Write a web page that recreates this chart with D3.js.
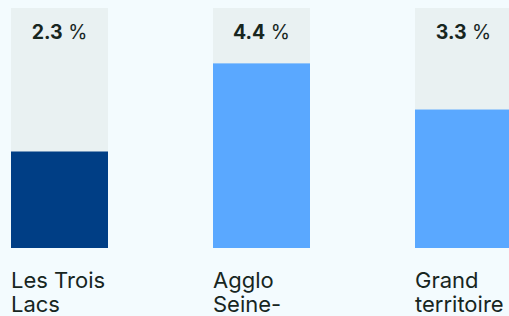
<!DOCTYPE html>
<html>
<head>
<meta charset="utf-8">
<script src="https://cdn.jsdelivr.net/npm/d3@7"></script>
<style>
  html, body { margin: 0; padding: 0; background: #f3fbfe; overflow: hidden; }
  svg { display: block; font-family: Inter, "Liberation Sans", sans-serif; }
</style>
</head>
<body>
<div id="chart"></div>
<script>
// Data
const categories = ["Les Trois Lacs", "Agglo Seine-Eure", "Grand territoire"];
const values = [2.3, 4.4, 3.3];
const colors = ["#003e85", "#5aa8ff", "#5aa8ff"];

const width = 509, height = 316;
const trackTop = 8, trackBottom = 248;

const svg = d3.select("#chart").append("svg")
    .attr("width", width)
    .attr("height", height);

// Scales
const x = d3.scaleBand()
    .domain(categories)
    .range([11, 512])
    .paddingInner(105 / 202)
    .paddingOuter(0);

const y = d3.scaleLinear()
    .domain([0, d3.max(values) * 1.3])
    .range([trackBottom, trackTop]);

const data = categories.map((c, i) => ({ cat: c, value: values[i], color: colors[i] }));

// Background tracks
svg.selectAll("rect.track")
    .data(data)
    .enter().append("rect")
    .attr("class", "track")
    .attr("x", d => x(d.cat))
    .attr("y", y.range()[1])
    .attr("width", x.bandwidth())
    .attr("height", trackBottom - trackTop)
    .attr("fill", "#e9f1f2");

// Bars
svg.selectAll("rect.bar")
    .data(data)
    .enter().append("rect")
    .attr("class", "bar")
    .attr("x", d => x(d.cat))
    .attr("y", d => y(d.value))
    .attr("width", x.bandwidth())
    .attr("height", d => trackBottom - y(d.value))
    .attr("fill", d => d.color);

// Value labels
const vl = svg.selectAll("text.value")
    .data(data)
    .enter().append("text")
    .attr("class", "value")
    .attr("x", d => x(d.cat) + x.bandwidth() / 2)
    .attr("y", 39)
    .attr("text-anchor", "middle")
    .attr("fill", "#17261f")
    .style("font-size", "19.5px");
vl.append("tspan").attr("font-weight", "bold").text(d => d3.format(".1f")(d.value));
vl.append("tspan").attr("font-weight", "normal").text(" %");

// Category labels, wrapped to bar width
svg.selectAll("text.cat")
    .data(data)
    .enter().append("text")
    .attr("class", "cat")
    .attr("x", d => x(d.cat))
    .attr("y", 288)
    .attr("fill", "#17261f")
    .style("font-size", "22px")
    .each(function(d) {
        const text = d3.select(this);
        const words = d.cat.replace("-", "- ").split(/\s+/);
        let line = [];
        let tspan = text.append("tspan").attr("x", x(d.cat)).attr("dy", 0);
        words.forEach(w => {
            line.push(w);
            tspan.text(line.join(" ").replace("- ", "-"));
            if (tspan.node().getComputedTextLength() > x.bandwidth() && line.length > 1) {
                line.pop();
                tspan.text(line.join(" ").replace("- ", "-"));
                line = [w];
                tspan = text.append("tspan").attr("x", x(d.cat)).attr("dy", 23.5).text(w);
            }
        });
    });
</script>
</body>
</html>
